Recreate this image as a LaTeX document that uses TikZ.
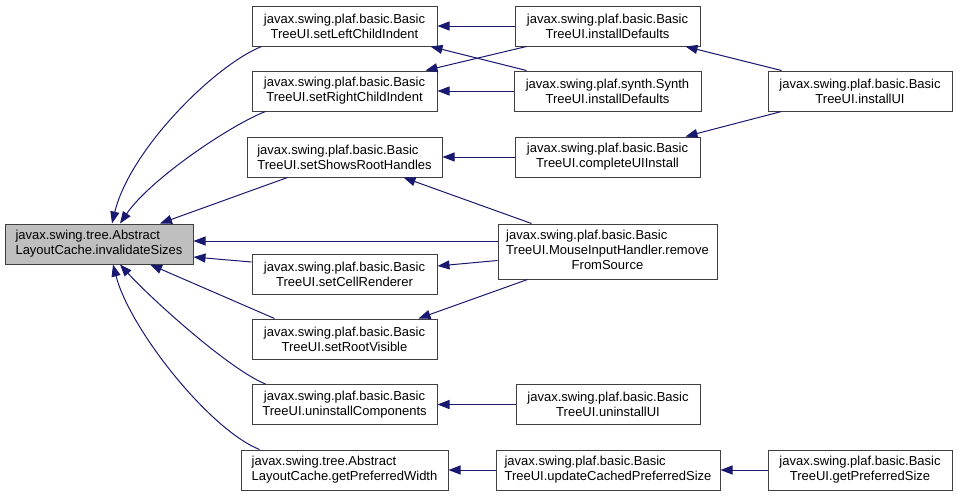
\documentclass[tikz,border=0pt]{standalone}
\usepackage{fontspec}
\setmainfont{Liberation Sans}
\usetikzlibrary{arrows.meta}
\definecolor{edgeblue}{HTML}{191970}
\definecolor{boxline}{HTML}{404040}
\definecolor{boxgray}{HTML}{BFBFBF}
\begin{document}
\begin{tikzpicture}[x=1pt,y=-1pt,
  fn/.style={draw=boxline,line width=1pt,fill=white,inner sep=0pt,minimum height=40pt,
    font=\fontsize{13}{15}\selectfont,align=center},
  fnl/.style={fn,align=left},
  call/.style={draw=edgeblue,line width=1pt,-{Triangle[length=12pt,width=9pt]}}]
\useasboundingbox (0,0) rectangle (957,496);
% nodes
\node[fnl,fill=boxgray,minimum width=188pt] (inv) at (99,244) {javax.swing.tree.Abstract\\LayoutCache.invalidateSizes};
\node[fn,minimum width=185pt] (sLCI) at (344.5,26) {javax.swing.plaf.basic.Basic\\TreeUI.setLeftChildIndent};
\node[fn,minimum width=185pt] (sRCI) at (344.5,91) {javax.swing.plaf.basic.Basic\\TreeUI.setRightChildIndent};
\node[fnl,minimum width=195pt] (sSRH) at (344.5,157) {javax.swing.plaf.basic.Basic\\TreeUI.setShowsRootHandles};
\node[fn,minimum width=185pt] (sCR) at (344.5,274) {javax.swing.plaf.basic.Basic\\TreeUI.setCellRenderer};
\node[fn,minimum width=185pt] (sRV) at (344.5,339) {javax.swing.plaf.basic.Basic\\TreeUI.setRootVisible};
\node[fn,minimum width=185pt] (uIC) at (344.5,404.5) {javax.swing.plaf.basic.Basic\\TreeUI.uninstallComponents};
\node[fnl,minimum width=207pt] (gPW) at (344.5,470) {javax.swing.tree.Abstract\\LayoutCache.getPreferredWidth};
\node[fn,minimum width=185pt] (iDB) at (607.5,26) {javax.swing.plaf.basic.Basic\\TreeUI.installDefaults};
\node[fn,minimum width=187pt] (iDS) at (607.5,91) {javax.swing.plaf.synth.Synth\\TreeUI.installDefaults};
\node[fn,minimum width=185pt] (cUI) at (607.5,157) {javax.swing.plaf.basic.Basic\\TreeUI.completeUIInstall};
\node[fn,minimum width=219pt,minimum height=55pt] (rFS) at (607.5,251.5)
  {\begin{tabular}{@{}l@{}}javax.swing.plaf.basic.Basic\\TreeUI.MouseInputHandler.remove\\\multicolumn{1}{@{}c@{}}{FromSource}\end{tabular}};
\node[fn,minimum width=184pt] (uUI) at (608,404.5) {javax.swing.plaf.basic.Basic\\TreeUI.uninstallUI};
\node[fnl,minimum width=224pt] (uCPS) at (608,470) {javax.swing.plaf.basic.Basic\\TreeUI.updateCachedPreferredSize};
\node[fn,minimum width=184pt] (iUI) at (860,91) {javax.swing.plaf.basic.Basic\\TreeUI.installUI};
\node[fn,minimum width=184pt] (gPS) at (860,470) {javax.swing.plaf.basic.Basic\\TreeUI.getPreferredSize};
% edges into invalidateSizes
\draw[call] ([xshift=10pt]sLCI.south west) .. controls +(-47,19) and +(18,-74) .. ([xshift=13pt]inv.north);
\draw[call] ([xshift=14pt]sRCI.south west) .. controls +(-36,14) and +(30,-44) .. ([xshift=21pt]inv.north);
\draw[call] ([xshift=41pt]sSRH.south west) -- ([xshift=61pt]inv.north);
\draw[call] ([yshift=10.5pt]rFS.west) -- ([yshift=3pt]inv.east);
\draw[call] ([yshift=12pt]sCR.west) -- ([yshift=-13pt]inv.east);
\draw[call] ([xshift=23pt]sRV.north west) -- ([xshift=51pt]inv.south);
\draw[call] ([xshift=14pt]uIC.north west) .. controls +(-37,-15) and +(30,33) .. ([xshift=21pt]inv.south);
\draw[call] ([xshift=19pt]gPW.north west) .. controls +(-50,-20) and +(17,65) .. ([xshift=14pt]inv.south);
% right side edges
\draw[call] (iDB.west) -- (sLCI.east);
\draw[call] ([xshift=12pt]iDB.south west) -- ([xshift=-12pt]sRCI.north east);
\draw[call] ([xshift=13pt]iDS.north west) -- ([xshift=-7pt]sLCI.south east);
\draw[call] (iDS.west) -- (sRCI.east);
\draw[call] ([xshift=14pt]iUI.north west) -- ([xshift=-15pt]iDB.south east);
\draw[call] ([xshift=14pt]iUI.south west) -- ([xshift=-15pt]cUI.north east);
\draw[call] (cUI.west) -- (sSRH.east);
\draw[call] ([xshift=34pt]rFS.north west) -- ([xshift=-39pt]sSRH.south east);
\draw[call] ([yshift=-9pt]rFS.west) -- ([yshift=8pt]sCR.east);
\draw[call] ([xshift=30pt]rFS.south west) -- ([xshift=-19pt]sRV.north east);
\draw[call] (uUI.west) -- (uIC.east);
\draw[call] (uCPS.west) -- (gPW.east);
\draw[call] (gPS.west) -- (uCPS.east);
\end{tikzpicture}
\end{document}
